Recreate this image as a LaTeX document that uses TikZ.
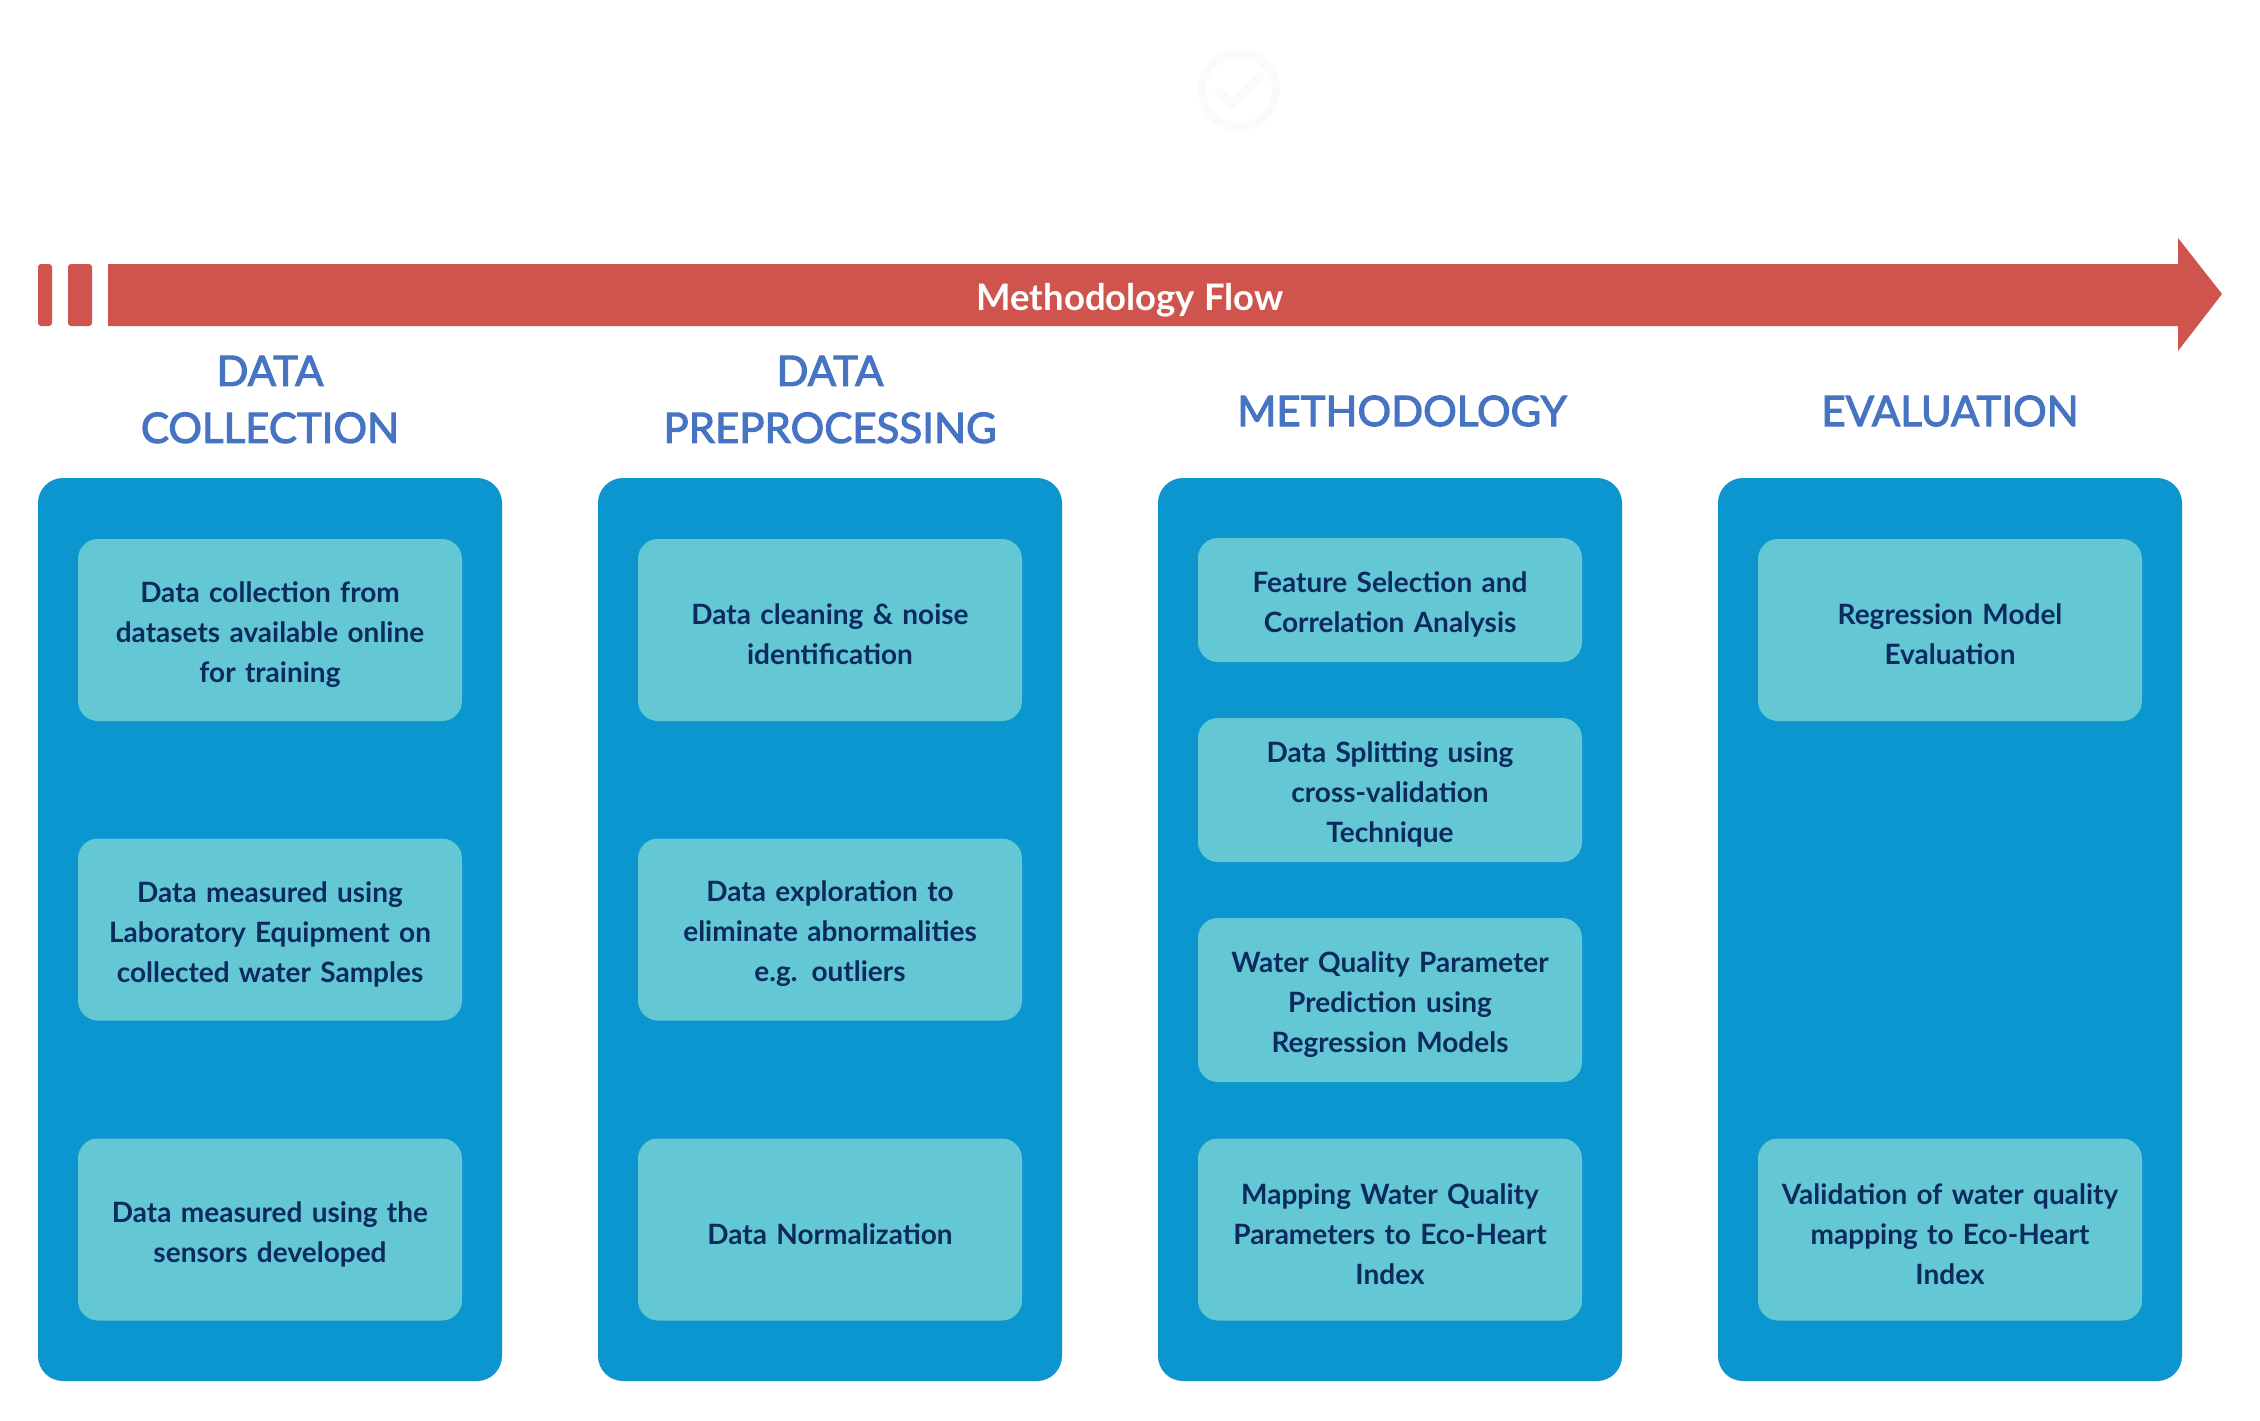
\documentclass[tikz,border=0pt]{standalone}
\usepackage{fontspec}
\setmainfont{Lato}
\newfontfamily\hdrfont[RawFeature={embolden=2.5}]{Lato}
\definecolor{arrowred}{HTML}{D0544E}
\definecolor{colblue}{HTML}{0B96CF}
\definecolor{cyanbox}{HTML}{63C8D4}
\definecolor{navytext}{HTML}{0C2A5E}
\definecolor{hdrblue}{HTML}{4674C2}
\definecolor{faint}{HTML}{FAFAFA}
\newcommand{\boxstrut}{\rule{0pt}{30pt}}
\begin{document}
\begin{tikzpicture}[x=1pt,y=-1pt,
  colbox/.style={fill=colblue, rounded corners=25pt, minimum width=464pt, minimum height=903pt, inner sep=0pt},
  inbox/.style={fill=cyanbox, rounded corners=20pt, minimum width=384pt, text width=380pt, align=center,
    font=\fontsize{28}{40}\selectfont\bfseries, text=navytext, inner sep=0pt},
  hdr/.style={text=hdrblue, font=\fontsize{42}{57}\selectfont\hdrfont, align=center, inner sep=0pt},
  flowbar/.style={fill=arrowred, rounded corners=3pt}
]
\useasboundingbox (0,0) rectangle (2260,1421);
\fill[white] (0,0) rectangle (2260,1421);

% faint check icon
\draw[faint, line width=8pt] (1239,90) circle (37);
\draw[faint, line width=8pt, line cap=round, line join=round] (1219,92) -- (1231,105) -- (1261,76);

% methodology flow arrow
\fill[flowbar] (38,264) rectangle (52,326);
\fill[flowbar] (68,264) rectangle (92,326);
\fill[arrowred] (108,264) -- (2178,264) -- (2178,238) -- (2222,294) -- (2178,351) -- (2178,326) -- (108,326) -- cycle;
\node[text=white, font=\fontsize{36.5}{40}\selectfont\bfseries, inner sep=0pt] (flow) at (1130,300) {Methodology Flow};

% headers
\node[hdr] (h1) at (270,399.5) {DATA\\COLLECTION};
\node[hdr] (h2) at (830,399.5) {DATA\\PREPROCESSING};
\node[hdr] (h3) at (1402,411) {METHODOLOGY};
\node[hdr] (h4) at (1950,411) {EVALUATION};

% columns
\node[colbox] (c1) at (270,929.5) {};
\node[colbox] (c2) at (830,929.5) {};
\node[colbox] (c3) at (1390,929.5) {};
\node[colbox] (c4) at (1950,929.5) {};

% column 1
\node[inbox, minimum height=182pt] (a1) at (270,630) {\boxstrut Data collection from\\datasets available online\\for training};
\node[inbox, minimum height=182pt] (a2) at (270,929.5) {\boxstrut Data measured using\\Laboratory Equipment on\\collected water Samples};
\node[inbox, minimum height=182pt] (a3) at (270,1229.5) {\boxstrut Data measured using the\\sensors developed};

% column 2
\node[inbox, minimum height=182pt] (b1) at (830,630) {\boxstrut Data cleaning \& noise\\identification};
\node[inbox, minimum height=182pt] (b2) at (830,929.5) {\boxstrut Data exploration to\\eliminate abnormalities\\e.g. outliers};
\node[inbox, minimum height=182pt] (b3) at (830,1229.5) {\boxstrut Data Normalization};

% column 3
\node[inbox, minimum height=124pt] (m1) at (1390,600) {\boxstrut Feature Selection and\\Correlation Analysis};
\node[inbox, minimum height=144pt] (m2) at (1390,790) {\boxstrut Data Splitting using\\cross-validation\\Technique};
\node[inbox, minimum height=164pt] (m3) at (1390,1000) {\boxstrut Water Quality Parameter\\Prediction using\\Regression Models};
\node[inbox, minimum height=182pt] (m4) at (1390,1229.5) {\boxstrut Mapping Water Quality\\Parameters to Eco-Heart\\Index};

% column 4
\node[inbox, minimum height=182pt] (e1) at (1950,630) {\boxstrut Regression Model\\Evaluation};
\node[inbox, minimum height=182pt] (e2) at (1950,1229.5) {\boxstrut Validation of water quality\\mapping to Eco-Heart\\Index};
\end{tikzpicture}
\end{document}
